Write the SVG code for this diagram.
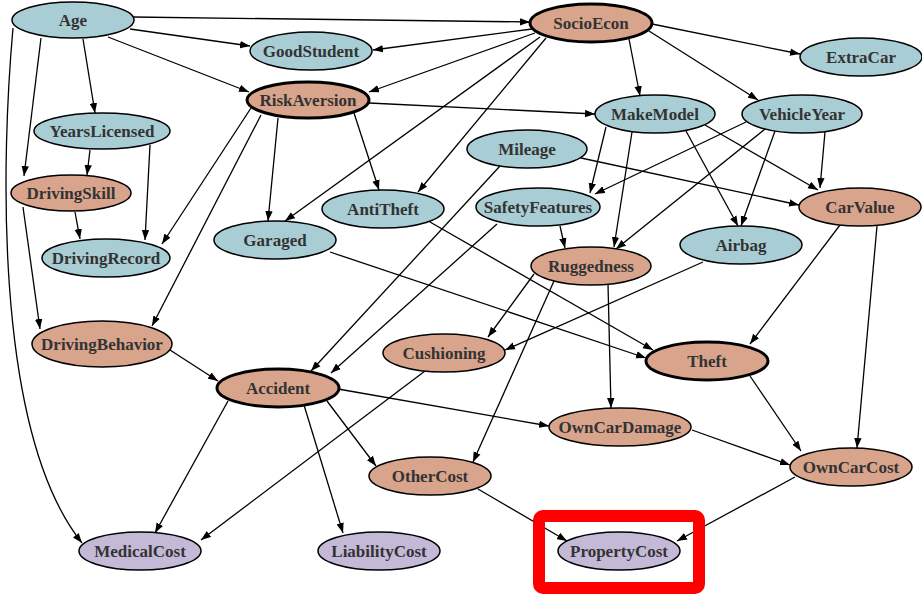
<svg xmlns="http://www.w3.org/2000/svg" width="922" height="598" viewBox="0 0 922 598">
<defs>
<marker id="ah" markerUnits="userSpaceOnUse" markerWidth="11" markerHeight="8" refX="10" refY="4" orient="auto"><path d="M0,0.3 L10,4 L0,7.7 z" fill="#000"/></marker>
<style>
.e line, .e path { stroke:#000; stroke-width:1.3; fill:none; marker-end:url(#ah); }
ellipse { stroke:#000; stroke-width:1.5; }
.thick ellipse { stroke-width:3; }
.b ellipse { fill:#a9cdd4; }
.s ellipse { fill:#d9a48c; }
.p ellipse { fill:#c4b9d6; }
text { font-family:"Liberation Serif","DejaVu Serif","Times New Roman",Times,serif; font-weight:bold; font-size:17px; fill:#333; text-anchor:middle; }
</style>
</defs>
<rect width="922" height="598" fill="#fff"/>
<g class="e" id="edges">
<line x1="133" y1="17" x2="530" y2="22"/>
<line x1="130" y1="29" x2="250" y2="46"/>
<line x1="108" y1="37" x2="249" y2="92"/>
<line x1="83" y1="39" x2="95" y2="113"/>
<line x1="41" y1="38" x2="24" y2="176"/>
<path d="M13,28 C2,150 -8,430 82,543"/>
<line x1="532" y1="29" x2="373" y2="50"/>
<line x1="535" y1="33" x2="369" y2="92"/>
<line x1="652" y1="24" x2="800" y2="54"/>
<line x1="629" y1="39" x2="640" y2="96"/>
<line x1="649" y1="31" x2="758" y2="100"/>
<line x1="546" y1="38" x2="418" y2="192"/>
<line x1="540" y1="37" x2="285" y2="221"/>
<line x1="90" y1="150" x2="87" y2="175"/>
<line x1="150" y1="145" x2="145" y2="240"/>
<line x1="75" y1="212" x2="80" y2="239"/>
<line x1="23" y1="207" x2="40" y2="329"/>
<line x1="251" y1="108" x2="162" y2="244"/>
<line x1="261" y1="115" x2="152" y2="326"/>
<line x1="278" y1="118" x2="268" y2="221"/>
<line x1="354" y1="113" x2="379" y2="190"/>
<line x1="369" y1="103" x2="595" y2="114"/>
<line x1="581" y1="158" x2="799" y2="205"/>
<line x1="500" y1="166" x2="311" y2="371"/>
<line x1="497" y1="224" x2="331" y2="373"/>
<line x1="606" y1="127" x2="590" y2="193"/>
<line x1="632" y1="132" x2="614" y2="247"/>
<line x1="686" y1="131" x2="738" y2="226"/>
<line x1="705" y1="125" x2="818" y2="190"/>
<line x1="746" y1="122" x2="595" y2="194"/>
<line x1="765" y1="129" x2="616" y2="249"/>
<line x1="775" y1="131" x2="741" y2="226"/>
<line x1="825" y1="132" x2="820" y2="188"/>
<line x1="560" y1="226" x2="565" y2="248"/>
<line x1="840" y1="225" x2="750" y2="344"/>
<line x1="877" y1="226" x2="857" y2="448"/>
<line x1="703" y1="262" x2="505" y2="350"/>
<line x1="534" y1="274" x2="488" y2="337"/>
<line x1="608" y1="284" x2="611" y2="408"/>
<line x1="554" y1="281" x2="473" y2="462"/>
<line x1="425" y1="371" x2="201" y2="540"/>
<line x1="170" y1="350" x2="218" y2="381"/>
<line x1="228" y1="401" x2="155" y2="533"/>
<line x1="304" y1="405" x2="343" y2="533"/>
<line x1="327" y1="401" x2="376" y2="466"/>
<line x1="338" y1="389" x2="549" y2="426"/>
<line x1="750" y1="376" x2="801" y2="451"/>
<line x1="692" y1="430" x2="790" y2="465"/>
<line x1="478" y1="489" x2="567" y2="541"/>
<line x1="795" y1="477" x2="677" y2="541"/>
<line x1="330" y1="252" x2="646" y2="358"/>
<line x1="430" y1="222" x2="653" y2="350"/>
</g>
<g id="Age" class="b"><ellipse cx="73" cy="20" rx="61" ry="18"/><text x="73" y="26">Age</text></g>
<g id="GoodStudent" class="b"><ellipse cx="311" cy="51" rx="61" ry="19"/><text x="311" y="57">GoodStudent</text></g>
<g id="SocioEcon" class="s thick"><ellipse cx="591" cy="23" rx="61" ry="19"/><text x="591" y="29">SocioEcon</text></g>
<g id="ExtraCar" class="b"><ellipse cx="861" cy="57" rx="61" ry="19"/><text x="861" y="63">ExtraCar</text></g>
<g id="RiskAversion" class="s thick"><ellipse cx="308" cy="100" rx="61" ry="18"/><text x="308" y="106">RiskAversion</text></g>
<g id="MakeModel" class="b"><ellipse cx="655" cy="114" rx="60" ry="19"/><text x="655" y="120">MakeModel</text></g>
<g id="VehicleYear" class="b"><ellipse cx="802" cy="114" rx="60" ry="19"/><text x="802" y="120">VehicleYear</text></g>
<g id="YearsLicensed" class="b"><ellipse cx="102" cy="131" rx="68" ry="18"/><text x="102" y="137">YearsLicensed</text></g>
<g id="Mileage" class="b"><ellipse cx="527" cy="149" rx="60" ry="19"/><text x="527" y="155">Mileage</text></g>
<g id="DrivingSkill" class="s"><ellipse cx="71" cy="193" rx="60" ry="18"/><text x="71" y="199">DrivingSkill</text></g>
<g id="AntiTheft" class="b"><ellipse cx="383" cy="209" rx="61" ry="19"/><text x="383" y="215">AntiTheft</text></g>
<g id="SafetyFeatures" class="b"><ellipse cx="538" cy="207" rx="62" ry="19"/><text x="538" y="213">SafetyFeatures</text></g>
<g id="CarValue" class="s"><ellipse cx="860" cy="207" rx="61" ry="19"/><text x="860" y="213">CarValue</text></g>
<g id="Garaged" class="b"><ellipse cx="275" cy="240" rx="61" ry="19"/><text x="275" y="246">Garaged</text></g>
<g id="DrivingRecord" class="b"><ellipse cx="106" cy="258" rx="64" ry="19"/><text x="106" y="264">DrivingRecord</text></g>
<g id="Airbag" class="b"><ellipse cx="741" cy="245" rx="61" ry="19"/><text x="741" y="251">Airbag</text></g>
<g id="Ruggedness" class="s"><ellipse cx="591" cy="266" rx="60" ry="19"/><text x="591" y="272">Ruggedness</text></g>
<g id="DrivingBehavior" class="s"><ellipse cx="102" cy="344" rx="70" ry="23"/><text x="102" y="350">DrivingBehavior</text></g>
<g id="Cushioning" class="s"><ellipse cx="444" cy="353" rx="61" ry="19"/><text x="444" y="359">Cushioning</text></g>
<g id="Theft" class="s thick"><ellipse cx="707" cy="361" rx="61" ry="19"/><text x="707" y="367">Theft</text></g>
<g id="Accident" class="s thick"><ellipse cx="278" cy="388" rx="61" ry="19"/><text x="278" y="394">Accident</text></g>
<g id="OwnCarDamage" class="s"><ellipse cx="620" cy="427" rx="71" ry="19"/><text x="620" y="433">OwnCarDamage</text></g>
<g id="OtherCost" class="s"><ellipse cx="430" cy="476" rx="61" ry="19"/><text x="430" y="482">OtherCost</text></g>
<g id="OwnCarCost" class="s"><ellipse cx="851" cy="467" rx="61" ry="19"/><text x="851" y="473">OwnCarCost</text></g>
<g id="MedicalCost" class="p"><ellipse cx="140" cy="551" rx="61" ry="19"/><text x="140" y="557">MedicalCost</text></g>
<g id="LiabilityCost" class="p"><ellipse cx="379" cy="551" rx="61" ry="19"/><text x="379" y="557">LiabilityCost</text></g>
<g id="PropertyCost" class="p"><ellipse cx="619" cy="551" rx="61" ry="19"/><text x="619" y="557">PropertyCost</text></g>
<rect id="highlight" x="539" y="516" width="160" height="72" rx="4" fill="none" stroke="#ff0000" stroke-width="12"/>
</svg>
